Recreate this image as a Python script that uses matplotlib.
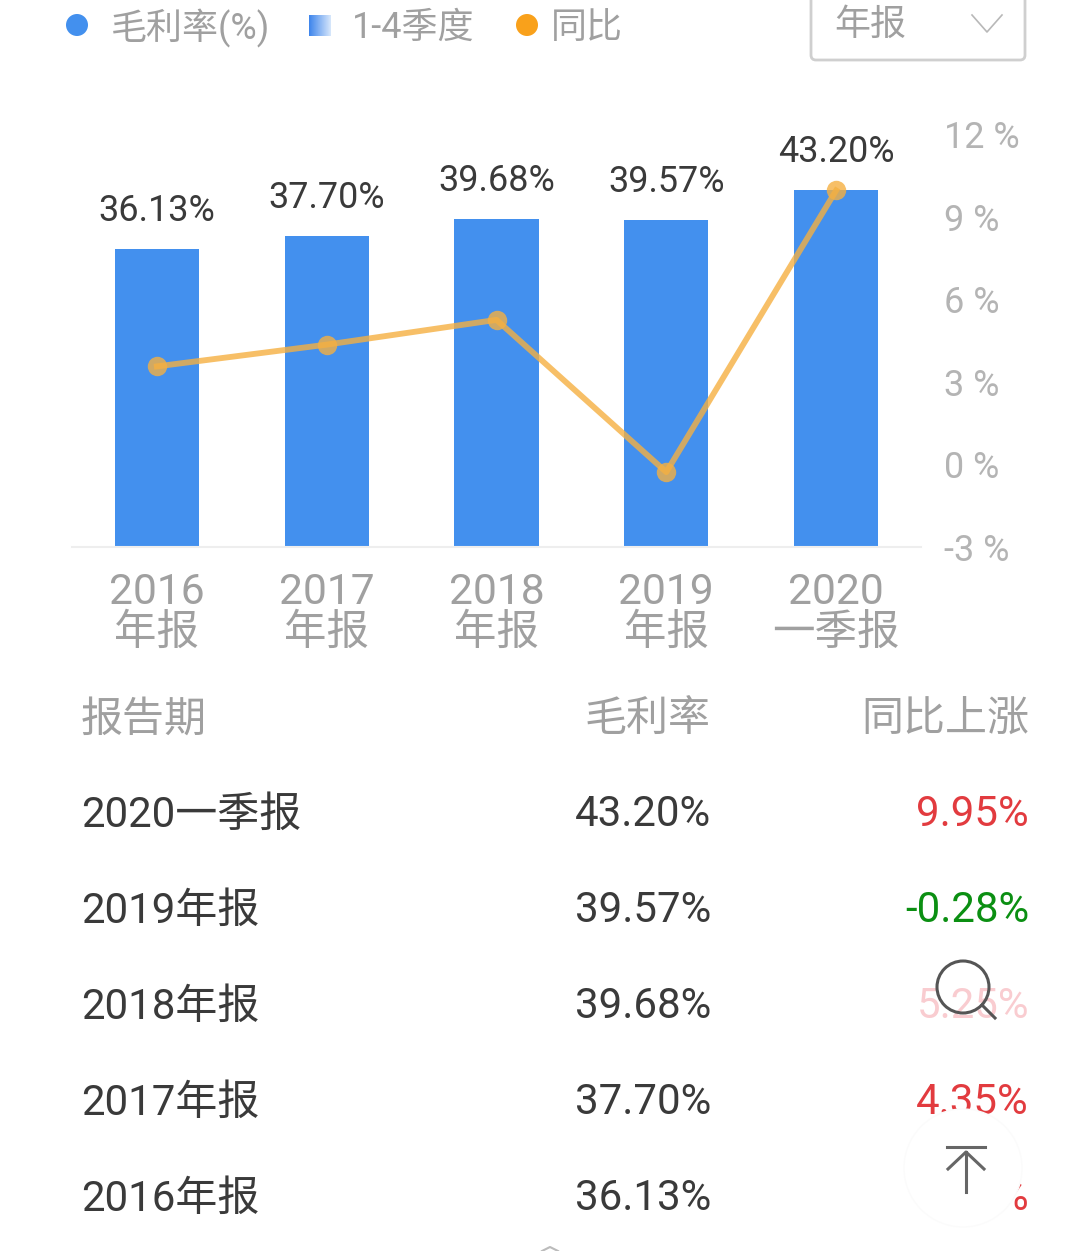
import matplotlib
matplotlib.use('Agg')
import matplotlib.pyplot as plt
from matplotlib.patches import Circle, FancyBboxPatch
from matplotlib.colors import LinearSegmentedColormap
import numpy as np

plt.rcParams['font.family'] = ['Roboto', 'Noto Sans CJK SC', 'DejaVu Sans']

# ===== Data =====
periods = ['2016\n年报', '2017\n年报', '2018\n年报', '2019\n年报', '2020\n一季报']
margin = [36.13, 37.70, 39.68, 39.57, 43.20]
yoy = [3.56, 4.35, 5.25, -0.28, 9.95]
yoy_ticks = [-3, 0, 3, 6, 9, 12]

table_head = ['报告期', '毛利率', '同比上涨']
table_periods = ['2020一季报', '2019年报', '2018年报', '2017年报', '2016年报']
table_margin = ['43.20%', '39.57%', '39.68%', '37.70%', '36.13%']
table_yoy = ['9.95%', '-0.28%', '5.25%', '4.35%', '3.56%']
table_colors = ['#e23b3f', '#0b8f12', '#f9ccd0', '#e23b3f', '#e23b3f']

c_bar = '#4390ee'
c_line = '#f5b041'
c_grey = '#a0a0a0'
c_dark = '#3a3a3a'

W, H = 1080, 1251
fig = plt.figure(figsize=(W / 100, H / 100), dpi=100, facecolor='white')


def px(size):
    return size * 72 / 100


# ===== Chart =====
ax = fig.add_axes([72 / W, 1 - 547 / H, 849 / W, 413 / H])
x = np.arange(len(periods))
ax.bar(x, margin, width=0.495, color=c_bar, zorder=2)
ax.set_xlim(-0.5, 4.5)
ax.set_ylim(0, 50)
ax.set_yticks([])
for s in ['top', 'left', 'right']:
    ax.spines[s].set_visible(False)
ax.spines['bottom'].set_color('#eeeeee')
ax.spines['bottom'].set_linewidth(1.5)
ax.set_xticks(x)
ax.set_xticklabels(periods, fontsize=px(42.5), color=c_grey, linespacing=1.0)
ax.tick_params(axis='x', length=0, pad=px(25))
for xi, v in zip(x, margin):
    ax.annotate(f'{v:.2f}%', (xi, v), xytext=(0, px(38)), textcoords='offset points',
                ha='center', va='center', fontsize=px(36), color=c_dark, zorder=6)

ax2 = ax.twinx()
ax2.plot(x, yoy, color=c_line, alpha=0.8, linewidth=4.2, marker='o', markersize=14,
         markeredgewidth=0, zorder=4)
ax2.set_ylim(-3, 12)
ax2.set_yticks(yoy_ticks)
ax2.set_yticklabels([f'{t} %' for t in yoy_ticks], fontsize=px(36), color='#b4b4b4')
ax2.tick_params(axis='y', length=0, pad=px(23))
for s in ax2.spines.values():
    s.set_visible(False)

# ===== Overlay in pixel coords: legend, dropdown, table, floating buttons =====
ov = fig.add_axes([0, 0, 1, 1], zorder=10)
ov.set_xlim(0, W)
ov.set_ylim(H, 0)
ov.axis('off')
ov.patch.set_alpha(0)

# legend
ov.add_patch(Circle((77, 25), 11, color=c_bar, lw=0))
ov.text(111, 28, '毛利率(%)', fontsize=px(36), color=c_grey, va='center')
grad = LinearSegmentedColormap.from_list('g', ['#3f86ec', '#d6e6fb'])
ov.imshow(np.linspace(0, 1, 32).reshape(1, -1), cmap=grad, extent=(309, 331, 36, 15),
          aspect='auto', zorder=2)
ov.set_xlim(0, W)
ov.set_ylim(H, 0)
ov.text(352, 28, '1-4季度', fontsize=px(36), color=c_grey, va='center')
ov.add_patch(Circle((527, 25), 11, color='#f9a11b', lw=0))
ov.text(551, 28, '同比', fontsize=px(36), color=c_grey, va='center')

# dropdown
ov.add_patch(FancyBboxPatch((811, -30), 214, 90, boxstyle='round,pad=0,rounding_size=5',
                            facecolor='white', edgecolor='#cfcfcf', linewidth=2))
ov.text(870, 25, '年报', fontsize=px(36), color=c_grey, ha='center', va='center')
ov.plot([972, 987, 1002], [15, 32, 15], color='#b8b8b8', linewidth=1.2)

# table
ov.text(81, 720, table_head[0], fontsize=px(42), color=c_grey, va='center')
ov.text(711, 720, table_head[1], fontsize=px(42), color=c_grey, ha='right', va='center')
ov.text(1029, 720, table_head[2], fontsize=px(42), color=c_grey, ha='right', va='center')
for i, (p, m, y, c) in enumerate(zip(table_periods, table_margin, table_yoy, table_colors)):
    yy = 815 + i * 96
    ov.text(81, yy, p, fontsize=px(42), color=c_dark, va='center')
    ov.text(711, yy, m, fontsize=px(42), color=c_dark, ha='right', va='center')
    ov.text(1029, yy, y, fontsize=px(42), color=c, ha='right', va='center')

# search button
ov.add_patch(Circle((963, 987), 26, facecolor='none', edgecolor='#555555', linewidth=2.2, zorder=5))
ov.plot([982, 995], [1005, 1018], color='#555555', linewidth=2.2, zorder=5)

# back to top button, hides most of the last row
ov.add_patch(Circle((963, 1168), 59, facecolor='white', edgecolor='#fbfbfb', linewidth=1, zorder=5))
ov.plot([947, 985], [1147, 1147], color='#666666', linewidth=2.2, zorder=6)
ov.plot([966, 966], [1152, 1192], color='#666666', linewidth=2.2, zorder=6)
ov.plot([948, 966, 984], [1169, 1152, 1169], color='#666666', linewidth=2.2, zorder=6)

# bit of the next section at the bottom edge
ov.plot([542, 550, 558], [1251, 1247, 1251], color='#bbbbbb', linewidth=1.5)

fig.savefig('out.png', dpi=100, facecolor='white')
